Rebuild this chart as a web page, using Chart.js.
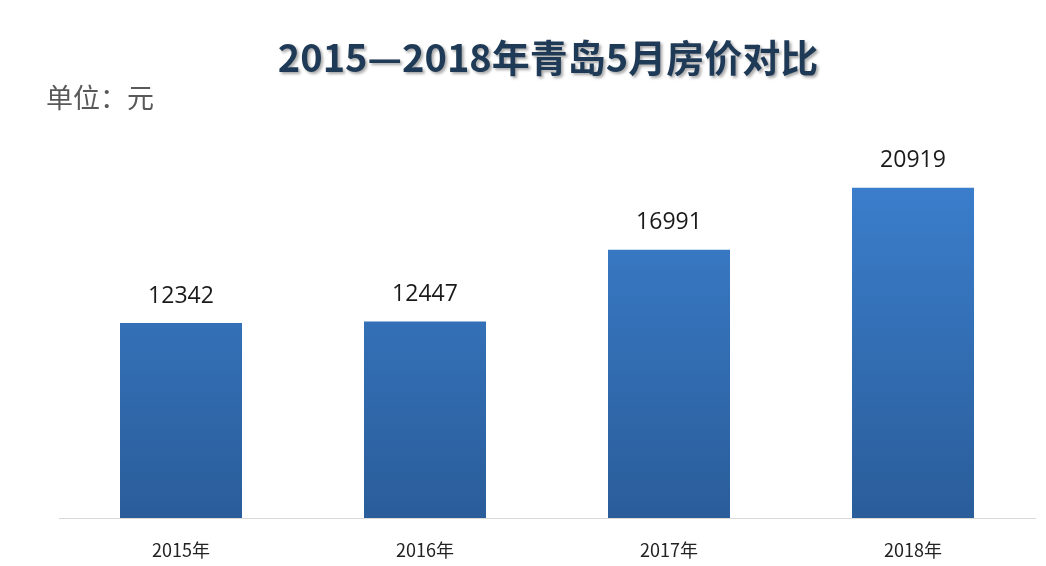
<!DOCTYPE html>
<html>
<head>
<meta charset="utf-8">
<script src="https://cdn.jsdelivr.net/npm/chart.js@4"></script>
<style>
  html, body { margin: 0; padding: 0; background: #fff; }
  #wrap { width: 1046px; height: 566px; position: relative; }
</style>
</head>
<body>
<div id="wrap"><canvas id="myChart" width="1046" height="566"></canvas></div>
<script>
// data
var years = ["2015年", "2016年", "2017年", "2018年"];
var prices = [12342, 12447, 16991, 20919];
var titleText = "2015—2018年青岛5月房价对比";
var unitText = "单位：元";

var cjk = "'Noto Sans CJK SC', 'Liberation Sans', sans-serif";

// title, unit and value labels drawn on the canvas
var textPlugin = {
	id: "texts",
	afterDraw: function (chart) {
		var c = chart.ctx;
		c.save();
		c.textAlign = "center";
		c.textBaseline = "middle";
		c.font = "bold 38px " + cjk;
		c.shadowColor = "rgba(0,0,0,0.35)";
		c.shadowOffsetX = 2;
		c.shadowOffsetY = 2;
		c.shadowBlur = 3;
		c.fillStyle = "#1f3a56";
		c.fillText(titleText, 548, 58);
		c.restore();

		c.save();
		c.textAlign = "left";
		c.textBaseline = "middle";
		c.font = "27px " + cjk;
		c.fillStyle = "#595959";
		c.fillText(unitText, 46, 98);

		c.textAlign = "center";
		c.font = "23px 'Open Sans', 'Liberation Sans', sans-serif";
		c.fillStyle = "#1a1a1a";
		var meta = chart.getDatasetMeta(0);
		meta.data.forEach(function (bar, i) {
			c.fillText(String(prices[i]), bar.x, bar.y - 27);
		});
		c.restore();
	}
};

var ctx = document.getElementById("myChart").getContext("2d");
var myChart = new Chart(ctx, {
	type: "bar",
	data: {
		labels: years,
		datasets: [
			{
				data: prices,
				backgroundColor: function (context) {
					var area = context.chart.chartArea;
					if (!area) return "#3272bf";
					var g = context.chart.ctx.createLinearGradient(0, 160, 0, area.bottom);
					g.addColorStop(0, "#3c80cf");
					g.addColorStop(1, "#2a5d9a");
					return g;
				},
				borderWidth: 0,
				categoryPercentage: 1,
				barPercentage: 0.5,
			},
		],
	},
	options: {
		responsive: false,
		animation: false,
		layout: { padding: { top: 139, left: 59, right: 11, bottom: 7 } },
		plugins: {
			legend: { display: false },
			tooltip: { enabled: false },
		},
		scales: {
			x: {
				grid: { display: false, drawTicks: false },
				border: { display: true, color: "#d9d9d9", width: 1 },
				ticks: {
					padding: 21,
					color: "#222",
					font: { size: 18, family: cjk },
				},
				afterFit: function (scale) {
					scale.height = 41;
				},
			},
			y: {
				display: false,
				min: 0,
				max: 24000,
			},
		},
	},
	plugins: [textPlugin],
});
</script>
</body>
</html>
